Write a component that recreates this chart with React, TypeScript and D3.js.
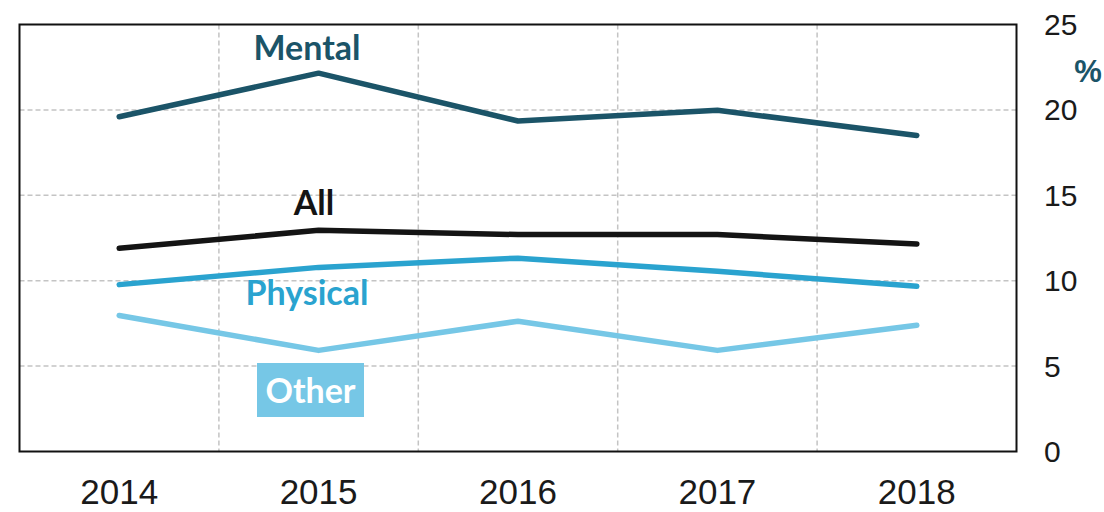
import React from "react";
import * as d3 from "d3";

const years = ["2014", "2015", "2016", "2017", "2018"];
const mental = [19.6, 22.15, 19.35, 19.98, 18.5];
const all = [11.9, 12.95, 12.7, 12.7, 12.15];
const physical = [9.77, 10.78, 11.32, 10.55, 9.67];
const other = [7.96, 5.92, 7.63, 5.92, 7.39];
const yTicks = [0, 5, 10, 15, 20, 25];

const W = 1104;
const H = 512;
const left = 19.5;
const right = 1016.5;
const top = 24.5;
const bottom = 451.5;

export default function App() {
  const x = d3.scaleBand<string>().domain(years).range([left, right]);
  const y = d3.scaleLinear().domain([0, 25]).range([bottom, top]);
  const cx = (d: string) => (x(d) as number) + x.bandwidth() / 2;
  const line = d3
    .line<number>()
    .x((_, i) => cx(years[i]))
    .y((v) => y(v));

  const series = [
    { name: "Mental", values: mental, color: "#1b5468" },
    { name: "All", values: all, color: "#141414" },
    { name: "Physical", values: physical, color: "#2aa3cf" },
    { name: "Other", values: other, color: "#76c7e6" },
  ];

  const bounds = years.slice(1).map((d) => x(d) as number);

  return (
    <svg
      width={W}
      height={H}
      style={{ position: "absolute", left: 0, top: 0, background: "#fff" }}
    >
      {yTicks
        .filter((t) => t > 0 && t < 25)
        .map((t) => (
          <line
            key={"h" + t}
            x1={left}
            x2={right}
            y1={y(t)}
            y2={y(t)}
            stroke="#c4c4c4"
            strokeWidth={1.5}
            strokeDasharray="5,3"
          />
        ))}
      {bounds.map((b, i) => (
        <line
          key={"v" + i}
          x1={b}
          x2={b}
          y1={top}
          y2={bottom}
          stroke="#c4c4c4"
          strokeWidth={1.5}
          strokeDasharray="5,3"
        />
      ))}
      <rect
        x={left}
        y={top}
        width={right - left}
        height={bottom - top}
        fill="none"
        stroke="#111"
        strokeWidth={2}
      />
      {series.map((s) => (
        <path
          key={s.name}
          d={line(s.values) as string}
          fill="none"
          stroke={s.color}
          strokeWidth={5.5}
          strokeLinecap="round"
          strokeLinejoin="round"
        />
      ))}
      <g fontFamily="Lato, 'Open Sans', sans-serif" fontWeight="bold" textAnchor="middle">
        <text x={307} y={60} fontSize={34} fill="#1b5468">
          Mental
        </text>
        <text x={314} y={215} fontSize={34} fill="#141414">
          All
        </text>
        <text x={307} y={305} fontSize={34} fill="#2aa3cf">
          Physical
        </text>
        <rect x={257} y={363} width={107} height={54} fill="#76c7e6" />
        <text x={310.5} y={403} fontSize={34} fill="#ffffff">
          Other
        </text>
      </g>
      <g fontFamily="'Liberation Sans', Arial, sans-serif" fontSize={30} fill="#1a1a1a">
        {yTicks.map((t) => (
          <text key={"yt" + t} x={1044} y={y(t)} dominantBaseline="central">
            {t}
          </text>
        ))}
      </g>
      <g fontFamily="'Liberation Sans', Arial, sans-serif" fontSize={35} fill="#1a1a1a">
        {years.map((d) => (
          <text key={"xt" + d} x={cx(d)} y={504} textAnchor="middle">
            {d}
          </text>
        ))}
      </g>
      <text
        x={1088}
        y={82}
        textAnchor="middle"
        fontFamily="'Liberation Sans', Arial, sans-serif"
        fontWeight="bold"
        fontSize={31}
        fill="#1b5468"
      >
        %
      </text>
    </svg>
  );
}
